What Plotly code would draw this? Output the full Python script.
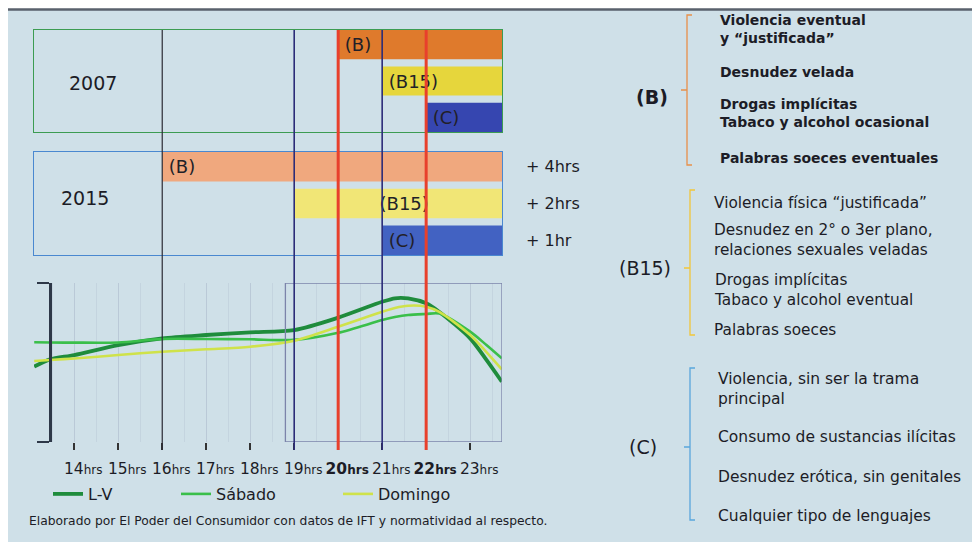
import plotly.graph_objects as go

W, H = 972, 542
FONT = "DejaVu Sans"
INK = "#1c1c26"

# ---------------- data ----------------
YEARS = ["2007", "2015"]
CLASSES = ["B", "B15", "C"]
START_2007 = [20, 21, 22]          # hour at which each class may be aired (2007)
START_2015 = [16, 19, 21]          # hour at which each class may be aired (2015)
END_HOUR = 24

HOURS = [13.09, 13.45, 14, 15, 16, 17, 18, 19, 20, 21, 21.29, 21.59, 22, 22.3, 23, 23.37, 23.72]
LV = [4.74, 5.20, 5.47, 6.10, 6.52, 6.73, 6.90, 7.04, 7.82, 8.82, 9.04, 9.03, 8.72, 8.18, 6.52, 5.16, 3.79]
SABADO = [6.27, 6.26, 6.25, 6.26, 6.48, 6.48, 6.46, 6.42, 6.87, 7.67, 7.86, 7.99, 8.05, 8.08, 6.94, 6.10, 5.26]
DOMINGO = [5.09, 5.16, 5.25, 5.47, 5.68, 5.83, 5.99, 6.37, 7.25, 8.19, 8.43, 8.57, 8.51, 8.18, 6.73, 5.66, 4.57]

TICK_HOURS = [14, 15, 16, 17, 18, 19, 20, 21, 22, 23]
BOLD_TICKS = [20, 22]
BOUNDARY_HOURS = [16, 19, 20, 21, 22]
RED_HOURS = [20, 22]
PRIME_FRAME_START = 18.8

B_ITEMS = ["Violencia eventual<br>y “justificada”", "Desnudez velada",
           "Drogas implícitas<br>Tabaco y alcohol ocasional", "Palabras soeces eventuales"]
B15_ITEMS = ["Violencia física “justificada”", "Desnudez en 2° o 3er plano,<br>relaciones sexuales veladas",
             "Drogas implícitas<br>Tabaco y alcohol eventual", "Palabras soeces"]
C_ITEMS = ["Violencia, sin ser la trama<br>principal", "Consumo de sustancias ilícitas",
           "Desnudez erótica, sin genitales", "Cualquier tipo de lenguajes"]
SOURCE = "Elaborado por El Poder del Consumidor con datos de IFT y normatividad al respecto."

# ---------------- helpers (layout only) ----------------
def px(x):
    return x / W

def py(y):
    return 1 - y / H

X_RANGE = [13.085, 23.724]
X_DOM = [px(34), px(502)]

BAR_COLORS = {"2007": ["#df7a2c", "#e6d63c", "#3646b0"],
              "2015": ["#f0a87e", "#f1e676", "#4262c2"]}
TEXT_ANCHOR = {"2007": ["start", "start", "start"],
               "2015": ["start", "middle", "start"]}

fig = go.Figure()

# ---------------- bars ----------------
for yi, (year, starts) in enumerate(zip(YEARS, [START_2007, START_2015])):
    xa = "x" if yi == 0 else "x2"
    ya = "y" if yi == 0 else "y2"
    for ci, cls in enumerate(CLASSES):
        anchor = TEXT_ANCHOR[year][ci]
        fig.add_trace(go.Bar(
            y=[cls], x=[END_HOUR - starts[ci]], base=[starts[ci]], orientation="h",
            width=0.8, marker=dict(color=BAR_COLORS[year][ci], line=dict(width=0)),
            text=[f"({cls})"],
            texttemplate=("\u2009%{text}" if anchor == "start" else "%{text}"),
            textposition="inside", insidetextanchor=anchor, constraintext="none",
            insidetextfont=dict(family=FONT, size=18, color="#221f28"),
            xaxis=xa, yaxis=ya, showlegend=False, hoverinfo="skip"))

# ---------------- lines ----------------
series = [("L-V", LV, "#1f8c3c", 3.8, "legend"),
          ("Sábado", SABADO, "#3abf4a", 2.6, "legend2"),
          ("Domingo", DOMINGO, "#cfe24a", 2.6, "legend3")]
for name, vals, col, w, lg in series:
    fig.add_trace(go.Scatter(x=HOURS, y=vals, name=name, mode="lines",
                             line=dict(color=col, width=w, shape="spline", smoothing=0.8),
                             xaxis="x3", yaxis="y3", legend=lg))

# ---------------- axes ----------------
def ticktext(h):
    s = f"{h}<span style='font-size:12px'>hrs</span>"
    return f"<b>{s}</b>" if h in BOLD_TICKS else s

box_common = dict(showticklabels=False, showgrid=False, zeroline=False, showline=True,
                  mirror=True, ticks="", automargin=False)
GRID = "rgba(120,130,165,0.13)"
fig.update_layout(
    xaxis=dict(domain=X_DOM, matches="x3", anchor="y", linecolor="#3c9c52", linewidth=1.3, **box_common),
    yaxis=dict(domain=[py(132), py(30)], anchor="x", range=[2.4, -0.4], type="category",
               categoryorder="array", categoryarray=CLASSES,
               linecolor="#3c9c52", linewidth=1.3, **box_common),
    xaxis2=dict(domain=X_DOM, matches="x3", anchor="y2", linecolor="#4a88d0", linewidth=1.2, **box_common),
    yaxis2=dict(domain=[py(255), py(152)], anchor="x2", range=[2.4, -0.4], type="category",
                categoryorder="array", categoryarray=CLASSES,
                linecolor="#4a88d0", linewidth=1.2, **box_common),
    xaxis3=dict(domain=X_DOM, anchor="y3", range=X_RANGE, tickvals=TICK_HOURS,
                ticktext=[ticktext(h) for h in TICK_HOURS], ticks="outside", ticklen=7,
                tickwidth=1.5, tickcolor="#333", showline=False, zeroline=False,
                showgrid=True, gridcolor=GRID, gridwidth=1,
                minor=dict(dtick=0.5, tick0=13, showgrid=True, gridcolor=GRID),
                tickfont=dict(family=FONT, size=15.5, color=INK), tickangle=0, automargin=False,
                ticklabelshift=9, ticklabelstandoff=5),
    yaxis3=dict(domain=[py(442), py(283)], anchor="free", position=px(50), range=[0, 10],
                showline=True, linecolor="#2e3848", linewidth=2.5, tickvals=[0, 10],
                ticks="outside", ticklen=12, tickwidth=2, tickcolor="#2e3848", automargin=False,
                showticklabels=False, showgrid=False, zeroline=False),
)

# ---------------- shapes ----------------
shapes = [
    dict(type="rect", xref="paper", yref="paper", x0=px(8), x1=1, y0=0, y1=py(9),
         fillcolor="#cfe0e8", line=dict(width=0), layer="below"),
    dict(type="line", xref="paper", yref="paper", x0=px(8), x1=1, y0=py(9.5), y1=py(9.5),
         line=dict(color="#59616c", width=2.5), layer="below"),
    dict(type="rect", xref="x3", yref="y3", x0=PRIME_FRAME_START, x1=X_RANGE[1], y0=0, y1=10,
         line=dict(color="#7c84aa", width=1.3)),
]
for h in BOUNDARY_HOURS:
    if h in RED_HOURS:
        ln = dict(color="#e8402c", width=3)
    elif h == 16:
        ln = dict(color="#2b2b35", width=1.2)
    else:
        ln = dict(color="#2c2c78", width=1.6)
    shapes.append(dict(type="line", xref="x3", yref="paper", x0=h, x1=h, y0=py(450), y1=py(30), line=ln))

def bracket(x, y0, y1, ymid, color):
    path = (f"M {px(x + 5)} {py(y0)} L {px(x)} {py(y0)} L {px(x)} {py(y1)} L {px(x + 5)} {py(y1)} "
            f"M {px(x - 6)} {py(ymid)} L {px(x)} {py(ymid)}")
    return dict(type="path", xref="paper", yref="paper", path=path, line=dict(color=color, width=1.3))

shapes += [bracket(687, 15, 165, 90, "#e8904a"),
           bracket(690, 190, 335, 268, "#f2c63a"),
           bracket(690, 368, 520, 447, "#5aa6dc")]

# ---------------- annotations ----------------
ann = []

def text(x, y, s, size=15, anchor="left", bold=False, color=INK):
    ann.append(dict(xref="paper", yref="paper", x=px(x), y=py(y), text=(f"<b>{s}</b>" if bold else s),
                    showarrow=False, xanchor=anchor, yanchor="middle", align="left",
                    font=dict(family=FONT, size=size, color=color)))

text(93, 83, "2007", size=19, anchor="center")
text(85, 198, "2015", size=19, anchor="center")

for ci, cls in enumerate(CLASSES):
    diff = START_2007[ci] - START_2015[ci]
    ann.append(dict(xref="paper", yref="y2", x=px(524), y=cls,
                    text=f"+ {diff}{'hr' if diff == 1 else 'hrs'}", showarrow=False,
                    xanchor="left", yanchor="middle", font=dict(family=FONT, size=16, color=INK)))

text(652, 97, "(B)", size=19, anchor="center", bold=True)
text(645, 268, "(B15)", size=19, anchor="center")
text(643, 447, "(C)", size=19, anchor="center")

for s, y in zip(B_ITEMS, [29.5, 72, 112.5, 158]):
    text(718, y, s, size=14, bold=True)
for s, y in zip(B15_ITEMS, [203, 240.5, 290, 330]):
    text(712, y, s, size=15.3)
for s, y in zip(C_ITEMS, [389, 437, 477, 516]):
    text(716, y, s, size=15.5)

text(27, 521, SOURCE, size=12.3)

leg_common = dict(orientation="h", yanchor="middle", xanchor="left", y=py(494),
                  bgcolor="rgba(0,0,0,0)", font=dict(family=FONT, size=16, color=INK), itemwidth=30)

fig.update_layout(
    width=W, height=H, margin=dict(l=0, r=0, t=0, b=0, autoexpand=False),
    paper_bgcolor="white", plot_bgcolor="rgba(0,0,0,0)",
    font=dict(family=FONT, color=INK),
    shapes=shapes, annotations=ann, barmode="overlay",
    legend=dict(x=px(48), **leg_common),
    legend2=dict(x=px(176), **leg_common),
    legend3=dict(x=px(338), **leg_common),
    hovermode=False,
)

fig.write_html("out.html")
